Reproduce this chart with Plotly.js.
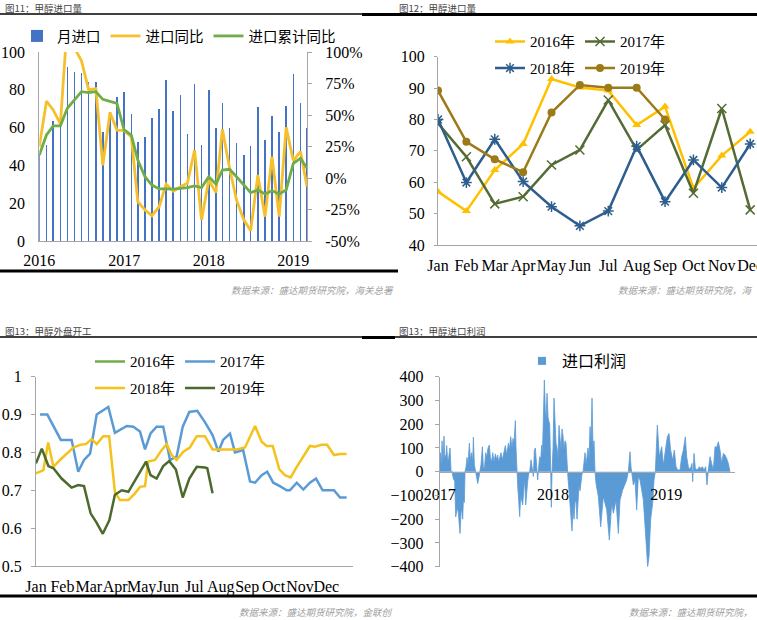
<!DOCTYPE html>
<html><head><meta charset="utf-8">
<script src="https://cdn.plot.ly/plotly-3.0.1.min.js"></script>
<style>html,body{margin:0;padding:0;background:#fff;} #chart{width:757px;height:620px;}</style>
</head><body><div id="chart"></div>
<script>
// ---------- Panel 1: 甲醇进口量 (monthly) ----------
const importMonths = ['2016-01','2016-02','2016-03','2016-04','2016-05','2016-06','2016-07','2016-08','2016-09','2016-10','2016-11','2016-12',
  '2017-01','2017-02','2017-03','2017-04','2017-05','2017-06','2017-07','2017-08','2017-09','2017-10','2017-11','2017-12',
  '2018-01','2018-02','2018-03','2018-04','2018-05','2018-06','2018-07','2018-08','2018-09','2018-10','2018-11','2018-12',
  '2019-01','2019-02','2019-03'];
const importVol = [46,51,63.5,63,92,89.6,89,84,84,57.5,68,76,
  78.7,67.2,52.6,55,65.3,69.7,85,69,77.2,56.4,82.9,50.6,
  79.7,59.6,72.8,60,51.7,45.7,50.3,70.9,53.4,66.3,57.7,71.4,
  88.5,72.8,60];
const importYoY = [25,61,54,43,123,103,93,70,71,10,52,38,
  37.6,32.8,-18.8,-25.4,-29.9,-22.8,-4.8,-10.5,-6.9,-4.2,22.2,-33.3,
  -1.6,-11.6,38.6,7.7,-17.5,-33,-41.8,2.4,-30.7,16.9,-30.7,40.2,
  13.9,21,-7];
const importCumYoY = [18.2,34.1,41.3,41.3,55.3,61.9,68.5,67.7,68.5,62.4,61.1,59.3,
  38.1,34.1,14.3,1,-5.6,-8.7,-8.7,-8.9,-8.2,-7.7,-6.3,-7.7,
  1,-4.8,6.3,6.9,1,-5.6,-11.6,-9.5,-12.7,-10.1,-12.7,-9.5,
  11.6,15.6,7.7];
const p1YearTicks = ['2016-01-01','2017-01-01','2018-01-01','2019-01-01'];
const p1YearText = ['2016','2017','2018','2019'];
const pctTicks = [-50,-25,0,25,50,75,100];
const pctText = ['-50%','-25%','0%','25%','50%','75%','100%'];

// ---------- Panel 2: 甲醇进口量 by year ----------
const monthNames = ['Jan','Feb','Mar','Apr','May','Jun','Jul','Aug','Sep','Oct','Nov','Dec'];
const vol2016 = [57,50.8,63.9,72.2,92.9,90.2,89.2,78.2,84.1,58.1,68.5,76.1];
const vol2017 = [78.8,68.1,53.1,55.4,65.5,70.3,86.2,70.3,78.2,56.5,83.5,51.2];
const vol2018 = [80,59.9,73.7,60.2,52.2,46.1,50.8,71.5,53.8,67.1,58.3,72.2];
const vol2019 = [89.2,72.9,67.3,63.2,82.2,91,90.1,90.1,80];

// ---------- Panel 3: 甲醇外盘开工 (weekly, x in months from Jan) ----------
const monthTickPos = [0,1,2,3,4,5,6,7,8,9,10,11];
const run2017X = [0.15,0.43,0.94,1.35,1.60,1.82,2.05,2.30,2.74,2.99,3.44,3.69,3.94,4.13,4.34,4.57,4.82,5.08,5.33,5.56,5.81,6.11,6.40,6.69,6.91,7.09,7.35,7.54,7.85,8.11,8.30,8.55,8.76,8.99,9.24,9.50,9.62,9.88,10.13,10.38,10.61,10.86,11.29,11.52,11.77];
const run2017Y = [0.90,0.90,0.833,0.833,0.749,0.78,0.797,0.90,0.92,0.852,0.87,0.868,0.855,0.808,0.85,0.868,0.868,0.78,0.79,0.868,0.907,0.91,0.88,0.846,0.802,0.833,0.85,0.80,0.806,0.723,0.72,0.74,0.749,0.72,0.711,0.70,0.70,0.72,0.702,0.72,0.731,0.70,0.70,0.681,0.681];
const run2018X = [0,0.28,0.46,0.66,0.91,1.16,1.41,1.67,1.89,2.11,2.30,2.55,2.77,2.99,3.18,3.50,3.75,3.94,4.13,4.25,4.51,4.76,4.95,5.14,5.33,5.58,5.83,6.09,6.40,6.69,7.09,7.60,7.92,8.30,8.55,8.74,8.97,9.22,9.43,9.65,9.88,10.13,10.38,10.57,10.82,11.03,11.29,11.52,11.77];
const run2018Y = [0.745,0.753,0.826,0.762,0.78,0.797,0.813,0.82,0.822,0.835,0.822,0.843,0.843,0.696,0.674,0.674,0.692,0.709,0.711,0.776,0.78,0.806,0.822,0.793,0.78,0.802,0.813,0.843,0.843,0.808,0.808,0.808,0.813,0.87,0.828,0.817,0.817,0.755,0.74,0.734,0.762,0.789,0.817,0.815,0.82,0.82,0.793,0.796,0.796];
const run2019X = [0,0.22,0.47,0.66,0.97,1.35,1.60,1.82,2.07,2.30,2.53,2.78,2.99,3.25,3.50,3.88,4.17,4.34,4.57,4.82,5.05,5.30,5.56,5.81,6.09,6.40,6.49,6.69];
const run2019Y = [0.771,0.81,0.764,0.758,0.731,0.707,0.714,0.711,0.639,0.614,0.585,0.621,0.688,0.70,0.696,0.74,0.776,0.74,0.731,0.764,0.777,0.755,0.681,0.731,0.762,0.76,0.758,0.692];

// ---------- Panel 4: 甲醇进口利润 (x = sample position, 340 per year from 2017-01) ----------
const profitPos = [0,2,5,7,10,13,15,19,21,24,27,31,34,37,41,45,48,53,56,61,64,66,69,71,74,76,79,82,85,89,92,96,99,101,104,107,111,114,117,120,
  124,128,131,134,138,141,145,149,152,156,159,163,167,171,174,177,181,184,188,193,197,201,206,209,213,217,220,223,227,229,231,234,237,240,243,246,249,252,255,258,261,264,267,270,
  274,278,281,284,287,291,294,297,300,303,306,308,311,314,317,319,322,325,328,330,332,335,337,340,343,346,349,352,355,358,361,364,367,370,373,376,379,382,385,388,391,394,397,400,403,406,409,412,415,418,421,424,427,430,
  433,436,439,442,445,448,451,454,457,460,463,466,469,476,483,491,501,509,516,521,529,536,541,549,556,561,566,571,574,576,581,586,591,596,601,611,616,621,624,628,633,639,643,647,
  653,659,666,671,679,683,688,693,699,704,709,714,721,726,731,737,741,746,751,757,759,763,767,773,779,783,788,793,798,802,806,811,816,821,826,831,836,841,846,851,856,861,866,871];
const profitVal = [20,80,10,130,40,150,60,70,110,40,60,100,5,0,-30,-40,-190,-150,-175,-260,-170,-160,-200,-120,-130,0,20,60,30,120,50,80,40,145,30,0,-30,-50,-30,0,
  30,105,20,10,80,60,100,112,60,40,80,40,75,50,70,40,60,80,50,90,110,70,120,90,147,100,140,120,215,100,0,-60,-120,-189,-100,-130,-140,-80,-30,-140,-60,-40,-10,0,
  50,10,-20,90,100,20,-35,20,63,50,112,60,288,386,250,220,330,230,210,200,80,-150,0,100,310,200,120,100,60,195,120,90,180,150,90,130,120,0,-30,-80,-130,-180,-250,-150,-200,-130,-120,-200,-100,-60,-80,-30,-10,0,
  30,80,30,60,100,50,190,120,310,100,130,0,-50,-105,-232,-105,-160,-288,-133,-175,-120,-260,-120,-77,-49,-35,0,84,20,-5,-56,-35,-161,-21,-35,-119,-217,-302,-400,-358,-200,-133,-35,0,
  196,63,105,28,105,147,161,91,49,91,21,7,7,63,91,147,63,21,7,35,-42,77,14,7,21,14,21,7,21,-56,7,63,35,7,105,102,126,91,35,77,70,56,35,0];
const profitTickPos = [0,340,680];
const profitTickText = ['2017','2018','2019'];

// ---------- styling ----------
const W = 757, H = 620;
const fx = p => p / W;
const fy = p => 1 - p / H;
const SERIF = "'Liberation Serif', 'Times New Roman', serif";
const CJK = "'Noto Sans CJK SC', sans-serif";
const MIX = "'Liberation Serif', 'Noto Sans CJK SC', serif";
const AX = '#A6A6A6';
const tickFont = {family: SERIF, size: 16, color: '#000'};
const base = {showline: true, linecolor: AX, linewidth: 1, showgrid: false, zeroline: false, tickfont: tickFont, fixedrange: true, tickangle: 0, automargin: false};

const YEL = '#F5C02C', GRN = '#70AD47', BAR = '#4472C4';

const traces = [
  {type:'bar', x: importMonths, y: importVol, xaxis:'x', yaxis:'y', name:'月进口', marker:{color: BAR}, width: 6e8, legend:'legend'},
  {type:'scatter', mode:'lines', x: importMonths, y: importYoY, xaxis:'x', yaxis:'y2', name:'进口同比', line:{color: YEL, width: 2.8}, legend:'legend'},
  {type:'scatter', mode:'lines', x: importMonths, y: importCumYoY, xaxis:'x', yaxis:'y2', name:'进口累计同比', line:{color: GRN, width: 2.8}, legend:'legend'},

  {type:'scatter', mode:'lines+markers', x: monthNames, y: vol2016, xaxis:'x2', yaxis:'y3', name:'2016年', line:{color:'#FFC000', width:2.5}, marker:{symbol:'triangle-up', size:8, color:'#FFC000'}, legend:'legend2'},
  {type:'scatter', mode:'lines+markers', x: monthNames, y: vol2017, xaxis:'x2', yaxis:'y3', name:'2017年', line:{color:'#546B35', width:2.5}, marker:{symbol:'x-thin-open', size:9, color:'#546B35', line:{width:1.5, color:'#546B35'}}, legend:'legend2'},
  {type:'scatter', mode:'lines+markers', x: monthNames, y: vol2018, xaxis:'x2', yaxis:'y3', name:'2018年', line:{color:'#2E5E8E', width:2.5}, marker:{symbol:'asterisk-open', size:9, color:'#2E5E8E', line:{width:1.5, color:'#2E5E8E'}}, legend:'legend3'},
  {type:'scatter', mode:'lines+markers', x: monthNames, y: vol2019, xaxis:'x2', yaxis:'y3', name:'2019年', line:{color:'#9C7A18', width:2.5}, marker:{symbol:'circle', size:8, color:'#9C7A18'}, legend:'legend3'},

  {type:'scatter', mode:'lines', x: [null], y: [null], xaxis:'x3', yaxis:'y4', name:'2016年', line:{color: GRN, width:2.5}, legend:'legend4'},
  {type:'scatter', mode:'lines', x: run2017X, y: run2017Y, xaxis:'x3', yaxis:'y4', name:'2017年', line:{color:'#5B9BD5', width:2.5}, legend:'legend4'},
  {type:'scatter', mode:'lines', x: run2018X, y: run2018Y, xaxis:'x3', yaxis:'y4', name:'2018年', line:{color:'#F5C21B', width:2.5}, legend:'legend5'},
  {type:'scatter', mode:'lines', x: run2019X, y: run2019Y, xaxis:'x3', yaxis:'y4', name:'2019年', line:{color:'#4B6A2C', width:2.5}, legend:'legend5'},

  {type:'scatter', mode:'lines', x: profitPos, y: profitVal, xaxis:'x4', yaxis:'y5', name:'进口利润', fill:'tozeroy', fillcolor:'#5B9BD5', line:{color:'#5B9BD5', width:0.8}, showlegend:false},
  {type:'scatter', mode:'markers', x: [null], y: [null], xaxis:'x4', yaxis:'y5', name:'进口利润', marker:{symbol:'square', size:8, color:'#5B9BD5'}, legend:'legend6'}
];

const legBase = {orientation:'h', bgcolor:'rgba(0,0,0,0)', borderwidth:0, xanchor:'left', yanchor:'middle', itemclick:false, itemdoubleclick:false};

const layout = {
  width: W, height: H, margin:{l:0, r:0, t:0, b:0}, paper_bgcolor:'#fff', plot_bgcolor:'rgba(0,0,0,0)',
  showlegend: true, bargap: 0,
  xaxis: Object.assign({}, base, {domain:[fx(39.3), fx(307)], anchor:'y', type:'date', range:['2016-01-01','2019-03-01'], tickvals:p1YearTicks, ticktext:p1YearText, ticks:'', ticklabelstandoff:5}),
  yaxis: Object.assign({}, base, {domain:[fy(241), fy(52)], anchor:'x', range:[0,100], dtick:20, ticks:'', ticklabelstandoff:10}),
  yaxis2: Object.assign({}, base, {overlaying:'y', side:'right', anchor:'x', range:[-50,100], tickvals:pctTicks, ticktext:pctText, ticks:'outside', ticklen:4, tickcolor:AX, ticklabelstandoff:10}),

  xaxis2: Object.assign({}, base, {domain:[fx(438), 1], anchor:'y3', type:'category', range:[0, 11.24], ticks:'', ticklabeloverflow:'allow', ticklabelstandoff:6}),
  yaxis3: Object.assign({}, base, {domain:[fy(245), fy(56.7)], anchor:'x2', range:[40,100], dtick:10, ticks:'outside', ticklen:3, tickcolor:AX, ticklabelstandoff:6}),

  xaxis3: Object.assign({}, base, {domain:[fx(36), fx(352.7)], anchor:'y4', range:[0,12], tickvals:monthTickPos, ticktext:monthNames, ticks:'', ticklabelstandoff:6}),
  yaxis4: Object.assign({}, base, {domain:[fy(566), fy(376.7)], anchor:'x3', range:[0.5,1], dtick:0.1, ticks:'outside', ticklen:4, tickcolor:AX, ticklabelstandoff:6}),

  xaxis4: Object.assign({}, base, {domain:[fx(439.7), fx(735)], anchor:'free', position: fy(471.7), range:[0,886], tickvals:profitTickPos, ticktext:profitTickText, ticks:'', ticklabelstandoff:8}),
  yaxis5: Object.assign({}, base, {domain:[fy(566.7), fy(376.7)], anchor:'x4', range:[-400,400], dtick:100, ticks:'outside', ticklen:4, tickcolor:AX, ticklabelstandoff:8}),

  legend: Object.assign({}, legBase, {x: fx(17), y: fy(36), font:{family: CJK, size:14.5, color:'#000'}}),
  legend2: Object.assign({}, legBase, {x: fx(490), y: fy(41.7), font:{family: MIX, size:15, color:'#000'}}),
  legend3: Object.assign({}, legBase, {x: fx(490), y: fy(68.3), font:{family: MIX, size:15, color:'#000'}}),
  legend4: Object.assign({}, legBase, {x: fx(90), y: fy(361.7), font:{family: MIX, size:15, color:'#000'}}),
  legend5: Object.assign({}, legBase, {x: fx(90), y: fy(388.3), font:{family: MIX, size:15, color:'#000'}}),
  legend6: Object.assign({}, legBase, {x: fx(522), y: fy(361), font:{family: CJK, size:16, color:'#000'}}),

  shapes: [
    {type:'line', xref:'paper', yref:'paper', x0:0, x1:fx(362), y0:fy(14), y1:fy(14), line:{color:'#000', width:1.3}},
    {type:'line', xref:'paper', yref:'paper', x0:fx(362), x1:1, y0:fy(14.5), y1:fy(14.5), line:{color:'#000', width:3}},
    {type:'line', xref:'paper', yref:'paper', x0:0, x1:fx(398), y0:fy(271), y1:fy(271), line:{color:'#000', width:3}},
    {type:'line', xref:'paper', yref:'paper', x0:0, x1:fx(362), y0:fy(337), y1:fy(337), line:{color:'#000', width:1.3}},
    {type:'line', xref:'paper', yref:'paper', x0:fx(362), x1:fx(395), y0:fy(337.5), y1:fy(337.5), line:{color:'#000', width:3}},
    {type:'line', xref:'paper', yref:'paper', x0:fx(395), x1:1, y0:fy(337), y1:fy(337), line:{color:'#000', width:1.3}},
    {type:'line', xref:'paper', yref:'paper', x0:0, x1:1, y0:fy(596), y1:fy(596), line:{color:'#000', width:3}}
  ],
  annotations: [
    {text:'图11：甲醇进口量', xref:'paper', yref:'paper', x:fx(3), y:fy(8), xanchor:'left', yanchor:'middle', showarrow:false, font:{family:CJK, size:9.5, color:'#444'}},
    {text:'图12：甲醇进口量', xref:'paper', yref:'paper', x:fx(397), y:fy(8), xanchor:'left', yanchor:'middle', showarrow:false, font:{family:CJK, size:9.5, color:'#444'}},
    {text:'图13：甲醇外盘开工', xref:'paper', yref:'paper', x:fx(3), y:fy(331), xanchor:'left', yanchor:'middle', showarrow:false, font:{family:CJK, size:9.5, color:'#444'}},
    {text:'图13：甲醇进口利润', xref:'paper', yref:'paper', x:fx(397), y:fy(331), xanchor:'left', yanchor:'middle', showarrow:false, font:{family:CJK, size:9.5, color:'#444'}},
    {text:'<i>数据来源：盛达期货研究院，海关总署</i>', xref:'paper', yref:'paper', x:fx(229), y:fy(290), xanchor:'left', yanchor:'middle', showarrow:false, font:{family:CJK, size:9.5, color:'#A0A0A0'}},
    {text:'<i>数据来源：盛达期货研究院，海</i>', xref:'paper', yref:'paper', x:fx(755), y:fy(290), xanchor:'right', yanchor:'middle', showarrow:false, font:{family:CJK, size:9.5, color:'#A0A0A0'}},
    {text:'<i>数据来源：盛达期货研究院，金联创</i>', xref:'paper', yref:'paper', x:fx(237), y:fy(612), xanchor:'left', yanchor:'middle', showarrow:false, font:{family:CJK, size:9.5, color:'#A0A0A0'}},
    {text:'<i>数据来源：盛达期货研究院，</i>', xref:'paper', yref:'paper', x:fx(755), y:fy(612), xanchor:'right', yanchor:'middle', showarrow:false, font:{family:CJK, size:9.5, color:'#A0A0A0'}}
  ]
};

Plotly.newPlot('chart', traces, layout, {displayModeBar:false, staticPlot:true});
</script></body></html>
